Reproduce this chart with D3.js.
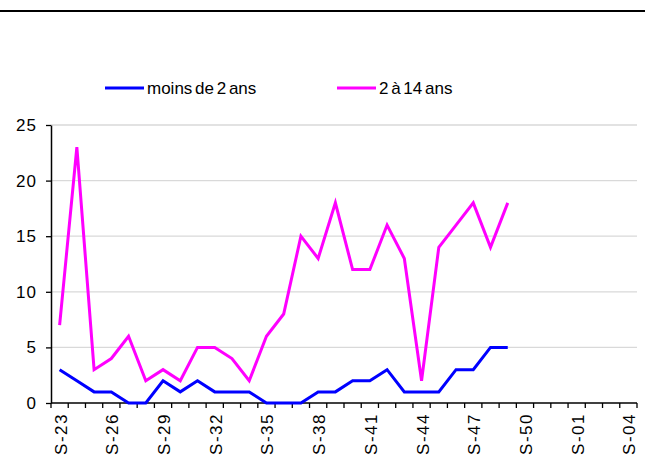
<!DOCTYPE html>
<html>
<head>
<meta charset="utf-8">
<script src="https://cdn.jsdelivr.net/npm/d3@7"></script>
<style>
    body { margin: 0; background: #fff; }
    text { font-family: "Liberation Sans", Arial, sans-serif; fill: #000; }
</style>
</head>
<body>
<svg id="canvas"></svg>
<script>
const WEEKS = [
    "S-23", "S-24", "S-25", "S-26", "S-27", "S-28", "S-29", "S-30", "S-31", "S-32",
    "S-33", "S-34", "S-35", "S-36", "S-37", "S-38", "S-39", "S-40", "S-41", "S-42",
    "S-43", "S-44", "S-45", "S-46", "S-47", "S-48", "S-49", "S-50", "S-51", "S-52",
    "S-01", "S-02", "S-03", "S-04"
]
const TICK_LABELS = ["S-23", "S-26", "S-29", "S-32", "S-35", "S-38", "S-41", "S-44", "S-47", "S-50", "S-01", "S-04"]
const Y_TICKS = [0, 5, 10, 15, 20, 25]

const SERIES_NAMES = ["moins de 2 ans", "2 à 14 ans"]
const UNDER_2 = [3, 2, 1, 1, 0, 0, 2, 1, 2, 1, 1, 1, 0, 0, 0, 1, 1, 2, 2, 3, 1, 1, 1, 3, 3, 5, 5]
const AGE_2_14 = [7, 23, 3, 4, 6, 2, 3, 2, 5, 5, 4, 2, 6, 8, 15, 13, 18, 12, 12, 16, 13, 2, 14, 16, 18, 14, 18]
const COLORS = ["#0000FF", "#FF00FF"]

const width = 645;
const height = 463;
const plotLeft = 51;
const plotRight = 637;
const plotTop = 125;
const plotBottom = 403;

const svg = d3.select("#canvas")
    .attr("width", width)
    .attr("height", height)

// top rule
svg.append("line")
    .attr("x1", 0).attr("x2", width)
    .attr("y1", 11).attr("y2", 11)
    .attr("stroke", "#000")
    .attr("stroke-width", 2.2)

const xScale = d3.scaleBand()
    .domain(WEEKS)
    .range([plotLeft, plotRight])
    .padding(0);
const yScale = d3.scaleLinear()
    .domain([0, 25])
    .range([plotBottom, plotTop]);

// gridlines
svg.selectAll(".grid")
    .data(Y_TICKS.filter(v => v > 0))
    .enter()
    .append("line")
    .attr("class", "grid")
    .attr("x1", plotLeft).attr("x2", plotRight)
    .attr("y1", d => yScale(d)).attr("y2", d => yScale(d))
    .attr("stroke", "#d9d9d9")
    .attr("stroke-width", 1.3)

// y axis
const yAxis = d3.axisLeft(yScale)
    .tickValues(Y_TICKS)
    .tickSize(5)
    .tickSizeOuter(0)
    .tickPadding(9);
svg.append("g")
    .attr("transform", `translate(${plotLeft}, 0)`)
    .call(yAxis)
    .call(g => g.select(".domain").attr("stroke", "#000").attr("stroke-width", 1.5))
    .call(g => g.selectAll(".tick line").attr("stroke", "#000").attr("stroke-width", 1.3))
    .call(g => g.selectAll(".tick text")
        .attr("font-size", 17)
        .attr("letter-spacing", 1)
        .attr("fill", "#000"))
    .attr("font-family", null)
    .attr("font-size", null);

// x axis: line plus tick marks at the category boundaries
const xAxisG = svg.append("g");
xAxisG.append("line")
    .attr("x1", plotLeft).attr("x2", plotRight)
    .attr("y1", plotBottom).attr("y2", plotBottom)
    .attr("stroke", "#000")
    .attr("stroke-width", 1.5)
xAxisG.selectAll(".xtick")
    .data(WEEKS.map(w => xScale(w)).concat([plotRight]))
    .enter()
    .append("line")
    .attr("class", "xtick")
    .attr("x1", d => d).attr("x2", d => d)
    .attr("y1", plotBottom).attr("y2", plotBottom + 5)
    .attr("stroke", "#000")
    .attr("stroke-width", 1.3)

xAxisG.selectAll(".xlabel")
    .data(TICK_LABELS)
    .enter()
    .append("text")
    .attr("class", "xlabel")
    .attr("transform", d => `translate(${xScale(d) + xScale.bandwidth() / 2 + 1}, 413) rotate(-90)`)
    .attr("text-anchor", "end")
    .attr("dy", "0.35em")
    .attr("font-size", 17)
    .attr("letter-spacing", 1.5)
    .text(d => d)

// lines
const line = d3.line()
    .x((d, i) => xScale(WEEKS[i]) + xScale.bandwidth() / 2)
    .y(d => yScale(d));

[UNDER_2, AGE_2_14].forEach((values, k) => {
    svg.append("path")
        .datum(values)
        .attr("d", line)
        .attr("fill", "none")
        .attr("stroke", COLORS[k])
        .attr("stroke-width", 3)
        .attr("stroke-linejoin", "miter")
})

// legend
const legendX = [105, 337];
SERIES_NAMES.forEach((name, k) => {
    const g = svg.append("g").attr("transform", `translate(${legendX[k]}, 88)`);
    g.append("line")
        .attr("x1", 0).attr("x2", 39)
        .attr("y1", 0).attr("y2", 0)
        .attr("stroke", COLORS[k])
        .attr("stroke-width", 3)
    g.append("text")
        .attr("x", 42)
        .attr("dy", "0.35em")
        .attr("font-size", 17)
        .attr("word-spacing", -2)
        .text(name)
})
</script>
</body>
</html>
